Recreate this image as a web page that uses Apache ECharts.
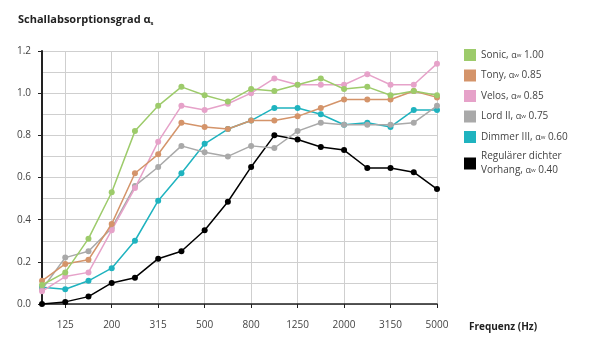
<!DOCTYPE html>
<html><head><meta charset="utf-8">
<script src="https://cdn.jsdelivr.net/npm/echarts@6/dist/echarts.min.js"></script>
<style>html,body{margin:0;padding:0;background:#fff}#c{width:600px;height:363px}</style>
</head><body><div id="c"></div>
<script>
var categories = ['100','125','160','200','250','315','400','500','630','800','1000','1250','1600','2000','2500','3150','4000','5000'];
var seriesNames = ['Sonic', 'Tony', 'Velos', 'Lord II', 'Dimmer III', 'Regulärer dichter\nVorhang'];
var ratings = ['1.00', '0.85', '0.85', '0.75', '0.60', '0.40'];
var sonic  = [0.09, 0.15, 0.31, 0.53, 0.82, 0.94, 1.03, 0.99, 0.96, 1.02, 1.01, 1.04, 1.07, 1.02, 1.03, 0.99, 1.01, 0.99];
var tony   = [0.11, 0.19, 0.21, 0.38, 0.62, 0.71, 0.86, 0.84, 0.83, 0.87, 0.87, 0.89, 0.93, 0.97, 0.97, 0.97, 1.01, 0.98];
var velos  = [0.06, 0.13, 0.15, 0.35, 0.55, 0.77, 0.94, 0.92, 0.95, 1.00, 1.07, 1.04, 1.04, 1.04, 1.09, 1.04, 1.04, 1.14];
var lord   = [0.07, 0.22, 0.25, 0.36, 0.56, 0.65, 0.75, 0.72, 0.70, 0.75, 0.74, 0.82, 0.86, 0.85, 0.85, 0.85, 0.86, 0.94];
var dimmer = [0.08, 0.07, 0.11, 0.17, 0.30, 0.49, 0.62, 0.76, 0.83, 0.87, 0.93, 0.93, 0.90, 0.85, 0.86, 0.84, 0.92, 0.92];
var vorhang= [0.00, 0.01, 0.035, 0.10, 0.125, 0.215, 0.25, 0.35, 0.485, 0.65, 0.80, 0.78, 0.745, 0.73, 0.645, 0.645, 0.625, 0.545];
var yTicks = [0, 0.2, 0.4, 0.6, 0.8, 1.0, 1.2];

var colors = ['#9dcb6b', '#d4946a', '#e6a2c9', '#a9a9a9', '#1fb3bf', '#000000'];
var datasets = [sonic, tony, velos, lord, dimmer, vorhang];
var FONT = 'Open Sans';

var chart = echarts.init(document.getElementById('c'));
var oddOnly = function (i) { return i % 2 === 1; };

var series = datasets.map(function (d, i) {
  return {
    name: seriesNames[i],
    type: 'line',
    data: d,
    symbol: 'circle',
    symbolSize: 6,
    z: 10 - i,
    itemStyle: { color: colors[i] },
    lineStyle: { color: colors[i], width: 1.5 }
  };
});

var ratingByName = {};
seriesNames.forEach(function (n, i) { ratingByName[n] = ratings[i]; });

chart.setOption({
  animation: false,
  textStyle: { fontFamily: FONT },
  title: {
    text: '{t|Schallabsorptionsgrad }{a|α}{s|s}',
    left: 13, top: 9,
    textStyle: {
      rich: {
        t: { fontFamily: FONT, fontSize: 11, fontWeight: 'bold', color: '#222' },
        a: { fontFamily: FONT, fontSize: 11, color: '#222' },
        s: { fontFamily: FONT, fontSize: 6, color: '#222', verticalAlign: 'bottom', padding: [6, 0, 0, 0] }
      }
    }
  },
  legend: {
    orient: 'vertical',
    left: 464, top: 49,
    padding: 0,
    itemWidth: 12, itemHeight: 12,
    itemGap: 8.5,
    icon: 'rect',
    data: seriesNames,
    formatter: function (name) {
      var parts = name.split('\n');
      var last = parts.pop();
      var pre = parts.length ? '{t|' + parts.join('\n') + '}\n' : '';
      return pre + '{t|' + last + ', }{a|α}{w|w}{t| ' + ratingByName[name] + '}';
    },
    textStyle: {
      color: '#444',
      rich: {
        t: { fontFamily: FONT, fontSize: 10, color: '#444', lineHeight: 14 },
        a: { fontFamily: FONT, fontSize: 9, color: '#444' },
        w: { fontFamily: FONT, fontSize: 6, color: '#444' }
      }
    }
  },
  grid: { left: 42, right: 163, top: 51, bottom: 59, containLabel: false },
  xAxis: {
    type: 'category',
    data: categories,
    boundaryGap: false,
    name: 'Frequenz (Hz)',
    nameLocation: 'end',
    nameGap: 32,
    nameTextStyle: { fontFamily: FONT, fontSize: 10, fontWeight: 'bold', color: '#222', verticalAlign: 'top', padding: [18, 0, 0, 0] },
    axisLine: { lineStyle: { color: '#222', width: 1.5 } },
    axisTick: { show: true, interval: oddOnly, length: 4, lineStyle: { color: '#222' } },
    axisLabel: { interval: oddOnly, fontFamily: FONT, fontSize: 10, color: '#444', margin: 16 },
    splitLine: { show: true, interval: oddOnly, lineStyle: { color: '#cfcfcf', width: 1 } }
  },
  yAxis: {
    type: 'value',
    min: yTicks[0], max: yTicks[yTicks.length - 1], interval: 0.2,
    axisLine: { show: true, lineStyle: { color: '#222', width: 2 } },
    axisTick: { show: true, length: 4, lineStyle: { color: '#222' } },
    axisLabel: { fontFamily: FONT, fontSize: 10, color: '#444', margin: 11,
      formatter: function (v) { return v.toFixed(1); } },
    splitLine: { show: true, lineStyle: { color: '#cfcfcf', width: 1 } },
    minorTick: { show: false, splitNumber: 2 },
    minorSplitLine: { show: true, lineStyle: { color: '#cfcfcf', width: 1 } }
  },
  series: series
});
</script>
</body></html>
